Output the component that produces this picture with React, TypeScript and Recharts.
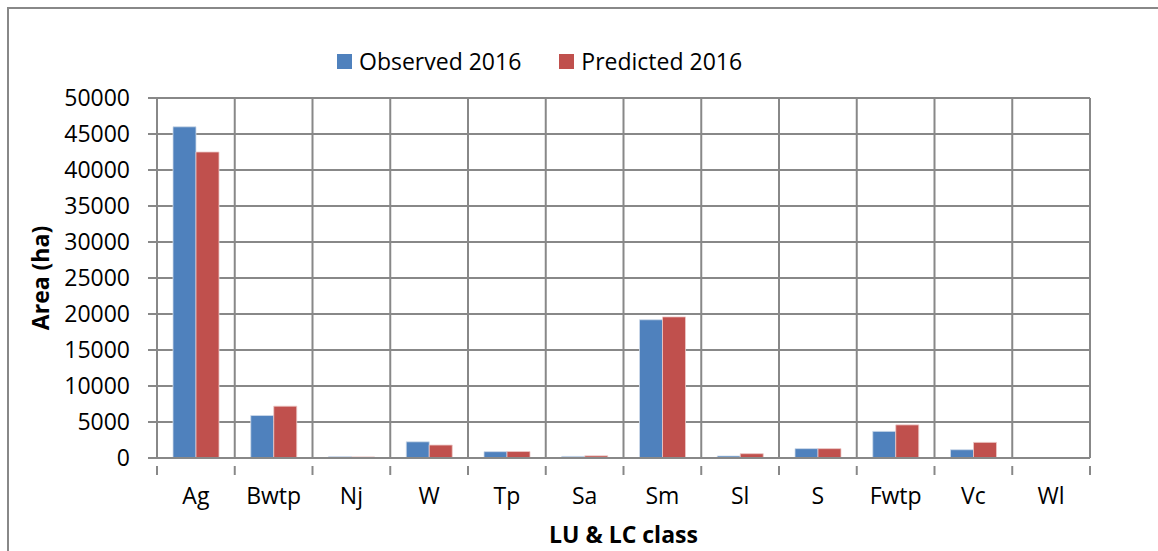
import { BarChart, Bar, XAxis, YAxis, CartesianGrid, Label } from 'recharts'

const classes = ['Ag', 'Bwtp', 'Nj', 'W', 'Tp', 'Sa', 'Sm', 'Sl', 'S', 'Fwtp', 'Vc', 'Wl']
const observed2016 = [46000, 5900, 180, 2250, 880, 220, 19200, 280, 1300, 3700, 1150, 0]
const predicted2016 = [42500, 7200, 150, 1800, 900, 300, 19600, 600, 1300, 4600, 2170, 0]
const yTicks = [0, 5000, 10000, 15000, 20000, 25000, 30000, 35000, 40000, 45000, 50000]

const data = classes.map((c, i) => ({ name: c, observed: observed2016[i], predicted: predicted2016[i] }))

const W = 1158
const H = 551
const M = { top: 98, right: 68, bottom: 0, left: 0 }
const Y_AXIS_W = 157
const X_AXIS_H = 93
const PLOT_W = W - M.left - Y_AXIS_W - M.right
const BAND = PLOT_W / classes.length

const GRID = '#888888'
const FONT = '"Open Sans", sans-serif'
const BLUE = '#4F81BD'
const RED = '#C0504D'

function CategoryTick({ x, y, payload, index }: any) {
  const last = index === classes.length - 1
  return (
    <g>
      <line x1={x - BAND / 2} x2={x - BAND / 2} y1={y} y2={y + 9} stroke={GRID} strokeWidth={2} />
      {last && <line x1={x + BAND / 2} x2={x + BAND / 2} y1={y} y2={y + 9} stroke={GRID} strokeWidth={2} />}
      <text x={x} y={y + 38} textAnchor="middle" fontSize={23} fontFamily={FONT} fill="#000">
        {payload.value}
      </text>
    </g>
  )
}

function LegendBox() {
  const item = (color: string, text: string) => (
    <div style={{ display: 'flex', alignItems: 'center', gap: 7 }}>
      <div style={{ width: 15, height: 15, background: color }} />
      <span style={{ fontSize: 23, fontFamily: FONT, color: '#000', lineHeight: '30px' }}>{text}</span>
    </div>
  )
  return (
    <div style={{ position: 'absolute', left: 337, top: 46, display: 'flex', gap: 38 }}>
      {item(BLUE, 'Observed 2016')}
      {item(RED, 'Predicted 2016')}
    </div>
  )
}

export default function App() {
  return (
    <div style={{ position: 'fixed', left: 0, top: 0, width: W, height: H, background: '#fff' }}>
      <div style={{ position: 'absolute', left: 7, top: 7, right: 0, bottom: -20, borderLeft: `2px solid ${GRID}`, borderTop: `2px solid ${GRID}` }} />
      <LegendBox />
      <div style={{ position: 'absolute', left: 0, top: 0 }}>
        <BarChart width={W} height={H} data={data} margin={M} barCategoryGap={16} barGap={0}>
          <CartesianGrid
            stroke={GRID}
            strokeWidth={2}
            verticalCoordinatesGenerator={({ offset }: any) =>
              classes.map((_, i) => offset.left + i * (offset.width / classes.length)).concat([offset.left + offset.width])
            }
          />
          <XAxis
            dataKey="name"
            height={X_AXIS_H}
            axisLine={{ stroke: GRID, strokeWidth: 2 }}
            tickLine={false}
            tick={<CategoryTick />}
            interval={0}
          >
            <Label value="LU & LC class" position="insideBottom" offset={8} style={{ fontSize: 23, fontWeight: 700, fontFamily: FONT, fill: '#000' }} />
          </XAxis>
          <YAxis
            width={Y_AXIS_W}
            domain={[0, 50000]}
            ticks={yTicks}
            interval={0}
            axisLine={{ stroke: GRID, strokeWidth: 2 }}
            tickLine={{ stroke: GRID, strokeWidth: 2 }}
            tickSize={9}
            tickMargin={18}
            tick={{ fontSize: 23, fontFamily: FONT, fill: '#000' }}
          >
            <Label
              value="Area (ha)"
              angle={-90}
              position="insideLeft"
              offset={41}
              textAnchor="middle"
              style={{ fontSize: 23, fontWeight: 700, fontFamily: FONT, fill: '#000', textAnchor: 'middle' }}
            />
          </YAxis>
          <Bar dataKey="observed" name="Observed 2016" fill={BLUE} stroke="#cfdbea" strokeWidth={0.8} isAnimationActive={false} />
          <Bar dataKey="predicted" name="Predicted 2016" fill={RED} stroke="#ecc9c8" strokeWidth={0.8} isAnimationActive={false} />
        </BarChart>
      </div>
    </div>
  )
}
